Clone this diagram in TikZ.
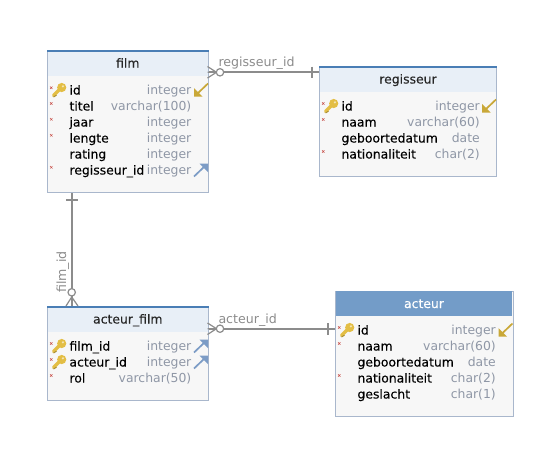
\documentclass[tikz,border=0pt]{standalone}
\usepackage{fontspec}
\setmainfont{DejaVu Sans}
\newfontfamily\colfont[FakeBold=0.15]{DejaVu Sans}
\definecolor{hdr}{HTML}{E8EFF7}
\definecolor{bodyc}{HTML}{F7F7F7}
\definecolor{bord}{HTML}{A9B7CC}
\definecolor{bar}{HTML}{4A7EB5}
\definecolor{sel}{HTML}{739CC8}
\definecolor{typec}{HTML}{8F97A6}
\definecolor{conn}{HTML}{8C8C8C}
\definecolor{gold}{HTML}{C9A838}
\definecolor{keyc}{HTML}{E3BE45}
\definecolor{fkc}{HTML}{7C9CC6}
\definecolor{redx}{HTML}{C8504A}
\tikzset{
  x=1pt,y=-1pt,
  tablebox/.style={draw=bord,fill=bodyc,line width=1pt,inner sep=0pt,anchor=north west},
  coltext/.style={font=\colfont\fontsize{12.4}{14}\selectfont,text=black,inner sep=0pt,anchor=base west},
  typetext/.style={font=\fontsize{12.4}{14}\selectfont,text=typec,inner sep=0pt,anchor=base east},
  titletext/.style={font=\colfont\fontsize{12.4}{14}\selectfont,text=black!85,inner sep=0pt,anchor=base},
  linklabel/.style={font=\fontsize{12.6}{14}\selectfont,text=conn,inner sep=0pt},
  linkline/.style={draw=conn,line width=1.9pt},
  footline/.style={draw=conn,line width=1.2pt},
  ring/.style={draw=conn,fill=white,line width=1.2pt},
  keyicon/.pic={
    \draw[keyc,line width=3.2pt,line cap=round] (-6,5.5) -- (1,-1.5);
    \draw[keyc!75!black,line width=1pt] (-6,7) -- (-3,5.2);
    \fill[keyc] (2.2,-2.5) circle (4.6);
    \fill[white!60!keyc] (3.4,-3.7) circle (1.2);
  },
  pkarrow/.pic={
    \draw[gold,line width=1.7pt] (7,-6.5) -- (-4,4);
    \fill[gold] (-7,6.5) -- (1.5,6.5) -- (-7,-2) -- cycle;
  },
  fkarrow/.pic={
    \draw[fkc,line width=1.7pt] (-7,6.5) -- (4,-4);
    \fill[fkc] (7,-6.5) -- (-1.5,-6.5) -- (7,2) -- cycle;
  },
  nullx/.pic={
    \draw[redx,line width=.5pt] (-1.2,-1.2) -- (1.2,1.2) (-1.2,1.2) -- (1.2,-1.2);
  },
}
% name, name x, type x, y, column, type
\newcommand{\colrow}[6]{%
  \node[coltext] (c#1) at (#2,#4+4.5) {#5};
  \node[typetext] (t#1) at (#3,#4+4.5) {#6};
}
\begin{document}
\begin{tikzpicture}
\useasboundingbox (0,0) rectangle (560,464);
\fill[white] (0,0) rectangle (560,464);

% tables
\node[tablebox,minimum width=161pt,minimum height=142.3pt] (film) at (47.3,50) {};
\fill[hdr] (47.8,50) rectangle (207.8,75.7);
\fill[bar] (46.8,50) rectangle (208.8,52.4);
\node[titletext] (filmtitle) at (127.8,67.5) {film};

\node[tablebox,minimum width=177pt,minimum height=110pt] (regisseur) at (319.3,66) {};
\fill[hdr] (319.8,66) rectangle (495.8,91.7);
\fill[bar] (318.8,66) rectangle (496.8,68.4);
\node[titletext] (regtitle) at (408,83.5) {regisseur};

\node[tablebox,minimum width=161pt,minimum height=94pt] (acteurfilm) at (47.3,306) {};
\fill[hdr] (47.8,306) rectangle (207.8,331.7);
\fill[bar] (46.8,306) rectangle (208.8,308.4);
\node[titletext] (aftitle) at (127.8,323.5) {acteur\_film};

\node[tablebox,minimum width=177.3pt,minimum height=125.3pt] (acteur) at (335.3,290.7) {};
\fill[sel] (335.8,291.2) rectangle (512.1,315.7);
\node[titletext,text=white] (actitle) at (424,308) {acteur};

% film rows
\colrow{fa}{69.3}{191.5}{90}{id}{integer}
\colrow{fb}{69.3}{191.5}{106}{titel}{varchar(100)}
\colrow{fc}{69.3}{191.5}{122}{jaar}{integer}
\colrow{fd}{69.3}{191.5}{138}{lengte}{integer}
\colrow{fe}{69.3}{191.5}{154}{rating}{integer}
\colrow{ff}{69.3}{191.5}{170}{regisseur\_id}{integer}
% regisseur rows
\colrow{ra}{341.3}{480}{106}{id}{integer}
\colrow{rb}{341.3}{480}{122}{naam}{varchar(60)}
\colrow{rc}{341.3}{480}{138}{geboortedatum}{date}
\colrow{rd}{341.3}{480}{154}{nationaliteit}{char(2)}
% acteur_film rows
\colrow{aa}{69.3}{191.5}{346}{film\_id}{integer}
\colrow{ab}{69.3}{191.5}{362}{acteur\_id}{integer}
\colrow{ac}{69.3}{191.5}{378}{rol}{varchar(50)}
% acteur rows
\colrow{ka}{357.3}{496}{330}{id}{integer}
\colrow{kb}{357.3}{496}{346}{naam}{varchar(60)}
\colrow{kc}{357.3}{496}{362}{geboortedatum}{date}
\colrow{kd}{357.3}{496}{378}{nationaliteit}{char(2)}
\colrow{ke}{357.3}{496}{394}{geslacht}{char(1)}

% icons
\foreach \xx/\yy in {51.3/87.7,51.3/103.5,51.3/119.3,51.3/135.3,51.3/167.3,
  323.3/103.5,323.3/119.5,323.3/151.5,
  51.3/343.5,51.3/359.5,51.3/375.5,
  339.3/327.5,339.3/343.5,339.3/375.5}
  \pic at (\xx,\yy) {nullx};
\foreach \xx/\yy in {59.5/90,331.5/106,59.5/346,59.5/362,347.5/330}
  \pic at (\xx,\yy) {keyicon};
\foreach \xx/\yy in {201/90,489/106,505.5/330}
  \pic at (\xx,\yy) {pkarrow};
\foreach \xx/\yy in {201/170,201/346,201/362}
  \pic at (\xx,\yy) {fkarrow};

% connectors
\draw[linkline] ([yshift=-22.3pt]film.north east) -- ([yshift=-6.3pt]regisseur.north west);
\draw[linkline] ([xshift=24.4pt]film.south west) -- ([xshift=24.4pt]acteurfilm.north west);
\draw[linkline] ([yshift=-22.7pt]acteurfilm.north east) -- ([yshift=-38pt]acteur.north west);

% ends film-regisseur
\draw[footline] (207.5,66.5) -- (216.5,72.3) -- (207.5,78) (207.5,72.3) -- (216.5,72.3);
\draw[ring] (220,72.3) circle (3.7);
\draw[footline] (312,66.5) -- (312,78);
% ends film-acteur_film
\draw[footline] (66,200) -- (78,200);
\draw[footline] (66,306) -- (71.7,297) -- (78,306) (71.7,306) -- (71.7,297);
\draw[ring] (71.7,292.3) circle (3.7);
% ends acteur_film-acteur
\draw[footline] (207.5,323) -- (216.5,328.7) -- (207.5,334.5) (207.5,328.7) -- (216.5,328.7);
\draw[ring] (220,328.7) circle (3.7);
\draw[footline] (328,323) -- (328,334.5);

% link labels
\node[linklabel,anchor=base west] (l1) at (218.3,66.5) {regisseur\_id};
\node[linklabel,anchor=base west,rotate=90] (l2) at (66,293) {film\_id};
\node[linklabel,anchor=base west] (l3) at (218.3,323) {acteur\_id};
\end{tikzpicture}
\end{document}
